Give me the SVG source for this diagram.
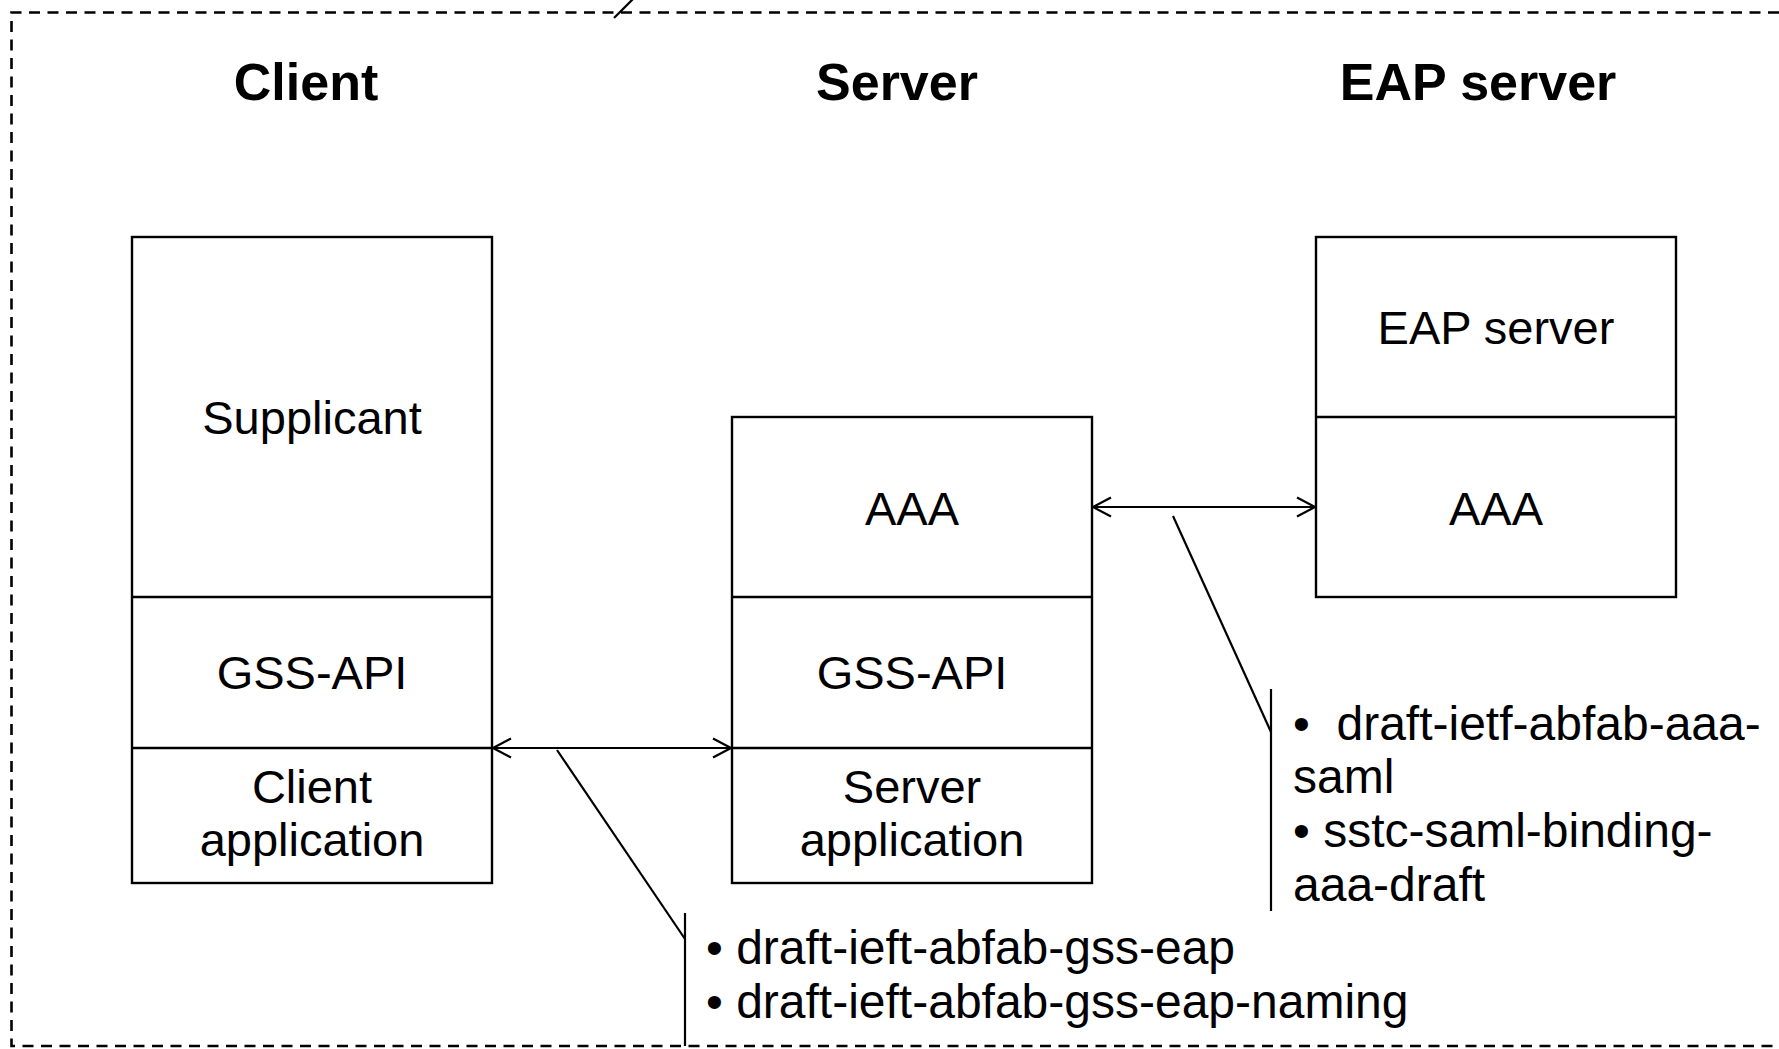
<svg xmlns="http://www.w3.org/2000/svg" width="1779" height="1049" viewBox="0 0 1779 1049">
<style>
.box{fill:#fff;stroke:#000;stroke-width:2.4}
.div{stroke:#000;stroke-width:2.4;fill:none}
.title{font-family:"Liberation Sans",Arial,sans-serif;font-weight:bold;font-size:52px;text-anchor:middle;fill:#000}
.lbl{font-family:"Liberation Sans",Arial,sans-serif;font-size:47px;text-anchor:middle;fill:#000}
.note{font-family:"Liberation Sans",Arial,sans-serif;font-size:48px;fill:#000}
.conn{stroke:#000;stroke-width:2.2;fill:none}
.frame{stroke:#000;stroke-width:2.6;fill:none;stroke-dasharray:11 7.5}
</style>
<defs>
<marker id="arr" viewBox="0 0 20 22" refX="19" refY="11" markerWidth="20" markerHeight="22" markerUnits="userSpaceOnUse" orient="auto-start-reverse">
<path d="M1 1.5 L19 11 L1 20.5" fill="none" stroke="#000" stroke-width="2.2"/>
</marker>
</defs>
<rect width="1779" height="1049" fill="#fff"/>
<g id="frame">
<path class="frame" d="M1779 12.5 H11.5 V1046 H1779"/>
<line class="conn" x1="614" y1="18" x2="633" y2="-1"/>
</g>
<g id="titles">
<text class="title" x="306" y="100">Client</text>
<text class="title" x="897" y="100">Server</text>
<text class="title" x="1478" y="100">EAP server</text>
</g>
<g id="client">
<rect class="box" x="132" y="237" width="360" height="646"/>
<line class="div" x1="132" y1="597" x2="492" y2="597"/>
<line class="div" x1="132" y1="748" x2="492" y2="748"/>
<text class="lbl" x="312" y="434">Supplicant</text>
<text class="lbl" x="312" y="689">GSS-API</text>
<text class="lbl" x="312" y="803">Client</text>
<text class="lbl" x="312" y="856">application</text>
</g>
<g id="server">
<rect class="box" x="732" y="417" width="360" height="466"/>
<line class="div" x1="732" y1="597" x2="1092" y2="597"/>
<line class="div" x1="732" y1="748" x2="1092" y2="748"/>
<text class="lbl" x="912" y="525">AAA</text>
<text class="lbl" x="912" y="689">GSS-API</text>
<text class="lbl" x="912" y="803">Server</text>
<text class="lbl" x="912" y="856">application</text>
</g>
<g id="eapserver">
<rect class="box" x="1316" y="237" width="360" height="360"/>
<line class="div" x1="1316" y1="417" x2="1676" y2="417"/>
<text class="lbl" x="1496" y="344">EAP server</text>
<text class="lbl" x="1496" y="525">AAA</text>
</g>
<g id="connectors">
<line class="conn" x1="493" y1="748" x2="731" y2="748" marker-start="url(#arr)" marker-end="url(#arr)"/>
<line class="conn" x1="1093" y1="507" x2="1315" y2="507" marker-start="url(#arr)" marker-end="url(#arr)"/>
<line class="conn" x1="557" y1="750" x2="685" y2="939"/>
<line class="conn" x1="685" y1="913" x2="685" y2="1046"/>
<line class="conn" x1="1173" y1="516" x2="1271" y2="732"/>
<line class="conn" x1="1271" y1="689" x2="1271" y2="911"/>
</g>
<g id="note-aaa">
<text class="note" x="1293" y="740" xml:space="preserve">•  draft-ietf-abfab-aaa-</text>
<text class="note" x="1293" y="793">saml</text>
<text class="note" x="1293" y="847">• sstc-saml-binding-</text>
<text class="note" x="1293" y="901">aaa-draft</text>
</g>
<g id="note-gss">
<text class="note" x="706" y="964">• draft-ieft-abfab-gss-eap</text>
<text class="note" x="706" y="1018">• draft-ieft-abfab-gss-eap-naming</text>
</g>
</svg>
